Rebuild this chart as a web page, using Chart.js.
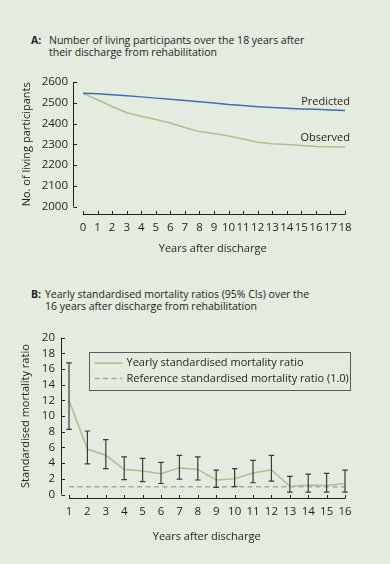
<!DOCTYPE html>
<html><head><meta charset="utf-8">
<script src="https://cdn.jsdelivr.net/npm/chart.js@4.4.1/dist/chart.umd.min.js"></script>
<style>
html,body{margin:0;padding:0;background:#e4ebdf;}
body{width:390px;height:564px;position:relative;overflow:hidden;font-family:"Open Sans",sans-serif;color:#231f20;}
.t{position:absolute;font-size:10.5px;line-height:12.3px;white-space:nowrap;}
.lab{position:absolute;font-weight:bold;font-size:10.5px;line-height:12.3px;}
.box{position:absolute;}
</style></head><body>
<div class="lab" style="left:31px;top:34px">A:</div>
<div class="t" style="left:49px;top:34px">Number of living participants over the 18 years after<br>their discharge from rehabilitation</div>
<div class="lab" style="left:31px;top:288px">B:</div>
<div class="t" style="left:45px;top:288px">Yearly standardised mortality ratios (95% CIs) over the<br>16 years after discharge from rehabilitation</div>
<div class="box" style="left:0;top:70px;width:390px;height:190px"><canvas id="a"></canvas></div>
<div class="box" style="left:0;top:320px;width:390px;height:244px"><canvas id="b"></canvas></div>
<script>
// ---- Data: panel A ----
const yearsA = [0,1,2,3,4,5,6,7,8,9,10,11,12,13,14,15,16,17,18];
const predicted = [2545,2543,2538,2533,2528,2522,2516,2511,2504,2498,2491,2486,2481,2477,2473,2470,2468,2465,2462];
const observed  = [2545,2514,2482,2452,2435,2419,2402,2381,2361,2352,2340,2325,2310,2303,2299,2294,2290,2288,2287];
const yTicksA = [2000,2100,2200,2300,2400,2500,2600];

// ---- Data: panel B ----
const yearsB = [1,2,3,4,5,6,7,8,9,10,11,12,13,14,15,16];
const smr    = [12.0,5.8,5.0,3.2,3.0,2.65,3.4,3.2,1.85,2.0,2.75,3.15,1.05,1.2,1.15,1.4];
const ciLow  = [8.3,3.9,3.3,1.9,1.65,1.4,1.95,1.85,0.9,1.0,1.5,1.7,0.3,0.3,0.3,0.3];
const ciHigh = [16.8,8.1,7.0,4.8,4.6,4.1,5.0,4.8,3.1,3.3,4.35,5.0,2.3,2.6,2.7,3.1];
const refSMR = 1.0;
const yTicksB = [0,2,4,6,8,10,12,14,16,18,20];

const TXT = '#231f20';
Chart.defaults.font.family = '"Open Sans", sans-serif';
Chart.defaults.font.size = 11;
Chart.defaults.color = TXT;
Chart.defaults.animation = false;

function axesPlugin(yMin, yMax, xFirst, xLast, gap){
  return {id:'axes', afterDraw(chart){
    const {ctx, chartArea:ca, scales:{x, y}} = chart;
    ctx.save();
    ctx.strokeStyle = TXT; ctx.lineWidth = 1;
    const ax = Math.round(ca.left)+0.5;
    ctx.beginPath();
    ctx.moveTo(ax, y.getPixelForValue(yMax)); ctx.lineTo(ax, y.getPixelForValue(yMin));
    y.ticks.forEach(t=>{ const py=Math.round(y.getPixelForValue(t.value))+0.5; ctx.moveTo(ax,py); ctx.lineTo(ax+3.5,py); });
    const ay = Math.round(ca.bottom+gap)+0.5;
    ctx.moveTo(x.getPixelForValue(xFirst), ay); ctx.lineTo(x.getPixelForValue(xLast), ay);
    x.ticks.forEach(t=>{ const px=Math.round(x.getPixelForValue(t.value))+0.5; ctx.moveTo(px,ay); ctx.lineTo(px,ay-3.5); });
    ctx.stroke();
    ctx.restore();
  }};
}

const endLabels = {id:'endLabels', afterDatasetsDraw(chart){
  const {ctx, scales:{x,y}} = chart;
  ctx.save();
  ctx.font = '11px "Open Sans", sans-serif';
  ctx.fillStyle = TXT; ctx.textAlign='right'; ctx.textBaseline='alphabetic';
  chart.data.datasets.forEach(ds=>{
    const last = ds.data[ds.data.length-1];
    ctx.fillText(ds.label, x.getPixelForValue(last.x)+5, y.getPixelForValue(last.y)-6);
  });
  ctx.restore();
}};

const plain = v => String(v);

new Chart(document.getElementById('a'), {
  type:'line',
  data:{datasets:[
    {label:'Predicted', data:yearsA.map((v,i)=>({x:v,y:predicted[i]})), borderColor:'#3b70b7', borderWidth:1.5, pointRadius:0, fill:false},
    {label:'Observed', data:yearsA.map((v,i)=>({x:v,y:observed[i]})), borderColor:'#afbe8d', borderWidth:1.5, pointRadius:0, fill:false}
  ]},
  options:{
    responsive:true, maintainAspectRatio:false,
    layout:{padding:{top:10,right:37.7,left:0,bottom:0}},
    plugins:{legend:{display:false}, tooltip:{enabled:false}},
    scales:{
      x:{type:'linear', min:-0.687, max:18.5,
        afterBuildTicks:s=>{s.ticks=yearsA.map(v=>({value:v}));},
        grid:{display:false, drawTicks:false}, border:{display:false},
        ticks:{padding:14.4, maxRotation:0, autoSkip:false, font:{size:11.5}, callback:plain},
        title:{display:true, text:'Years after discharge', padding:{top:0,bottom:4.4}, font:{size:11}},
        afterFit:s=>{s.height=53.3;}},
      y:{min:2000, max:2600,
        afterBuildTicks:s=>{s.ticks=yTicksA.map(v=>({value:v}));},
        grid:{display:false, drawTicks:false}, border:{display:false},
        ticks:{padding:5, autoSkip:false, font:{size:11.5}, callback:plain},
        title:{display:true, text:'No. of living participants', padding:{top:20.4,bottom:0}, font:{size:11}},
        afterFit:s=>{s.width=73;}}
    }
  },
  plugins:[axesPlugin(2000,2600,0,18,7), endLabels]
});

const errorBars = {id:'errorBars', afterDatasetsDraw(chart){
  const {ctx, scales:{x,y}} = chart;
  ctx.save();
  ctx.strokeStyle = '#3a3a3a'; ctx.lineWidth = 1.2;
  ctx.beginPath();
  yearsB.forEach((v,i)=>{
    const px = x.getPixelForValue(v), lo = y.getPixelForValue(ciLow[i]), hi = y.getPixelForValue(ciHigh[i]);
    ctx.moveTo(px,lo); ctx.lineTo(px,hi);
    ctx.moveTo(px-2.8,lo); ctx.lineTo(px+2.8,lo);
    ctx.moveTo(px-2.8,hi); ctx.lineTo(px+2.8,hi);
  });
  ctx.stroke();
  ctx.restore();
}};

const legendB = {id:'legendB', afterDraw(chart){
  const {ctx, chartArea:ca} = chart;
  const x0 = Math.round(ca.left+28)+0.5, y0 = Math.round(ca.top+14)+0.5, w = 261, h = 38;
  ctx.save();
  ctx.strokeStyle = '#5b5b5b'; ctx.lineWidth = 1;
  ctx.strokeRect(x0, y0, w, h);
  ctx.font = '11px "Open Sans", sans-serif';
  ctx.textBaseline = 'middle'; ctx.textAlign = 'left';
  chart.data.datasets.forEach((ds,i)=>{
    const yy = y0 + 10.6 + i*15.4;
    ctx.strokeStyle = ds.borderColor; ctx.lineWidth = ds.borderWidth;
    ctx.setLineDash(ds.borderDash || []);
    ctx.beginPath(); ctx.moveTo(x0+5, yy); ctx.lineTo(x0+33, yy); ctx.stroke();
    ctx.setLineDash([]);
    ctx.fillStyle = TXT;
    ctx.fillText(ds.label, x0+37, yy);
  });
  ctx.restore();
}};

new Chart(document.getElementById('b'), {
  type:'line',
  data:{datasets:[
    {label:'Yearly standardised mortality ratio', data:yearsB.map((v,i)=>({x:v,y:smr[i]})), borderColor:'#b1c08f', borderWidth:1.6, pointRadius:0, fill:false},
    {label:'Reference standardised mortality ratio (1.0)', data:yearsB.map(v=>({x:v,y:refSMR})), borderColor:'#a6aaac', borderWidth:1.5, borderDash:[5,3.5], pointRadius:0, fill:false}
  ]},
  options:{
    responsive:true, maintainAspectRatio:false,
    layout:{padding:{top:17.7,right:37.6,left:0,bottom:0}},
    plugins:{legend:{display:false}, tooltip:{enabled:false}},
    scales:{
      x:{type:'linear', min:0.565, max:16.4,
        afterBuildTicks:s=>{s.ticks=yearsB.map(v=>({value:v}));},
        grid:{display:false, drawTicks:false}, border:{display:false},
        ticks:{padding:10.3, maxRotation:0, autoSkip:false, font:{size:11.5}, callback:plain},
        title:{display:true, text:'Years after discharge', padding:{top:0,bottom:20.4}, font:{size:11}},
        afterFit:s=>{s.height=69.5;}},
      y:{min:0, max:20,
        afterBuildTicks:s=>{s.ticks=yTicksB.map(v=>({value:v}));},
        grid:{display:false, drawTicks:false}, border:{display:false},
        ticks:{padding:6, autoSkip:false, font:{size:11.5}, callback:plain},
        title:{display:true, text:'Standardised mortality ratio', padding:{top:19.1,bottom:0}, font:{size:11}},
        afterFit:s=>{s.width=61;}}
    }
  },
  plugins:[axesPlugin(0,20,1,16,3), errorBars, legendB]
});
</script>
</body></html>
